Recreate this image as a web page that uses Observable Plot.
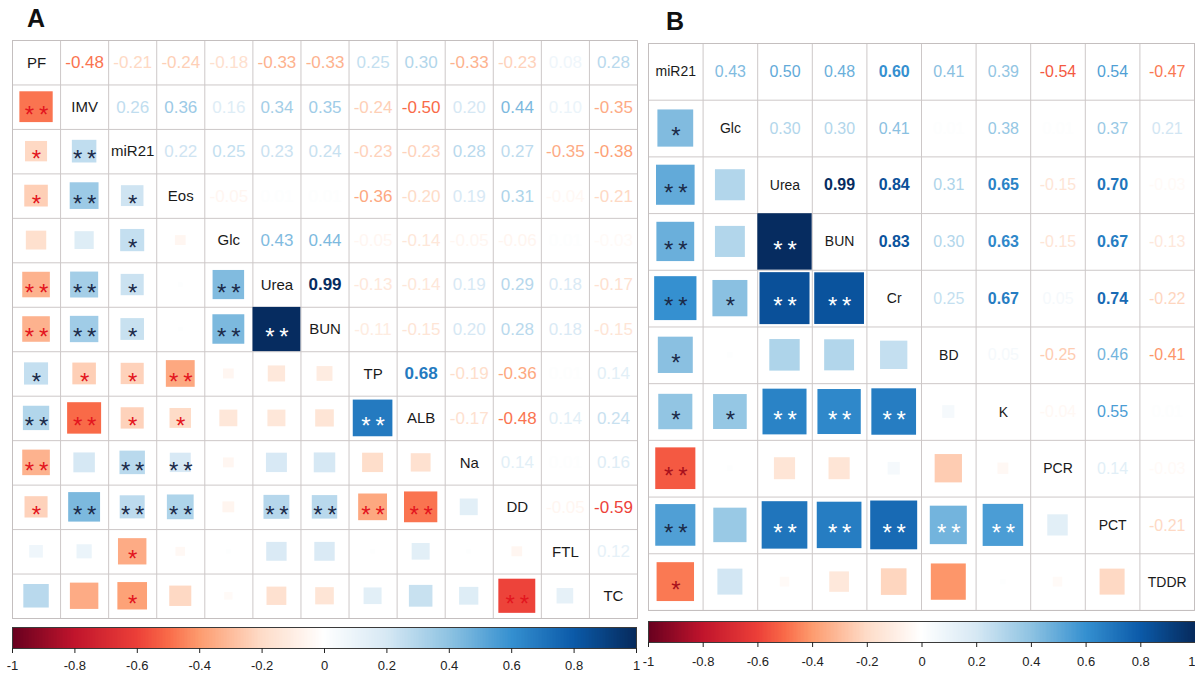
<!DOCTYPE html>
<html>
<head>
<meta charset="utf-8">
<script src="https://cdn.jsdelivr.net/npm/d3@7"></script>
<script src="https://cdn.jsdelivr.net/npm/@observablehq/plot@0.6"></script>
<style>
  html, body { margin: 0; padding: 0; background: #fff; overflow: hidden; width: 1195px; height: 673px; }
  .abs { position: absolute; }
  .panel-title { font-family: "Liberation Sans", Arial, sans-serif; font-weight: bold; font-size: 25px; color: #111; }
</style>
</head>
<body>
<div class="abs panel-title" style="left:27px; top:4px;">A</div>
<div class="abs panel-title" style="left:666px; top:7px;">B</div>
<div id="matA" class="abs" style="left:11px; top:39px;"></div>
<div id="matB" class="abs" style="left:647px; top:42px;"></div>
<div id="barA" class="abs" style="left:0px; top:626px;"></div>
<div id="barB" class="abs" style="left:636px; top:620px;"></div>
<script>
// ---------- Panel A data ----------
const varsA = ["PF", "IMV", "miR21", "Eos", "Glc", "Urea", "BUN", "TP", "ALB", "Na", "DD", "FTL", "TC"];
// upper triangle, row i holds r(i, j) for j > i
const corrA = [
  [-0.48, -0.21, -0.24, -0.18, -0.33, -0.33, 0.25, 0.30, -0.33, -0.23, 0.08, 0.28],
  [0.26, 0.36, 0.16, 0.34, 0.35, -0.24, -0.50, 0.20, 0.44, 0.10, -0.35],
  [0.22, 0.25, 0.23, 0.24, -0.23, -0.23, 0.28, 0.27, -0.35, -0.38],
  [-0.05, 0.01, 0.01, -0.36, -0.20, 0.19, 0.31, -0.04, -0.21],
  [0.43, 0.44, -0.05, -0.14, -0.05, -0.06, 0.01, -0.03],
  [0.99, -0.13, -0.14, 0.19, 0.29, 0.18, -0.17],
  [-0.11, -0.15, 0.20, 0.28, 0.18, -0.15],
  [0.68, -0.19, -0.36, 0.01, 0.14],
  [-0.17, -0.48, 0.14, 0.24],
  [0.14, 0.01, 0.16],
  [-0.05, -0.59],
  [0.12]
];
// lower triangle significance, row i holds marks for j < i
const sigA = [
  [],
  ["**"],
  ["*", "**"],
  ["*", "**", "*"],
  ["", "", "*", ""],
  ["**", "**", "*", "", "**"],
  ["**", "**", "*", "", "**", "**"],
  ["*", "*", "*", "**", "", "", ""],
  ["**", "**", "*", "*", "", "", "", "**"],
  ["**", "", "**", "**", "", "", "", "", ""],
  ["*", "**", "**", "**", "", "**", "**", "**", "**", ""],
  ["", "", "*", "", "", "", "", "", "", "", ""],
  ["", "", "*", "", "", "", "", "", "", "", "**", ""]
];

// ---------- Panel B data ----------
const varsB = ["miR21", "Glc", "Urea", "BUN", "Cr", "BD", "K", "PCR", "PCT", "TDDR"];
const corrB = [
  [0.43, 0.50, 0.48, 0.60, 0.41, 0.39, -0.54, 0.54, -0.47],
  [0.30, 0.30, 0.41, 0.01, 0.38, 0.01, 0.37, 0.21],
  [0.99, 0.84, 0.31, 0.65, -0.15, 0.70, -0.03],
  [0.83, 0.30, 0.63, -0.15, 0.67, -0.13],
  [0.25, 0.67, 0.05, 0.74, -0.22],
  [0.05, -0.25, 0.46, -0.41],
  [-0.04, 0.55, 0.01],
  [0.14, -0.03],
  [-0.21]
];
const sigB = [
  [],
  ["*"],
  ["**", ""],
  ["**", "", "**"],
  ["**", "*", "**", "**"],
  ["*", "", "", "", ""],
  ["*", "*", "**", "**", "**", ""],
  ["**", "", "", "", "", "", ""],
  ["**", "", "**", "**", "**", "**", "**", ""],
  ["*", "", "", "", "", "", "", "", ""]
];

// colour bar ticks
const barTicks = [-1, -0.8, -0.6, -0.4, -0.2, 0, 0.2, 0.4, 0.6, 0.8, 1];

const FONT = '"Liberation Sans", Arial, Helvetica, sans-serif';
// diverging palette as seen in the reference colour bar
const colorScale = {
  type: "linear",
  domain: [-1, -0.8, -0.6, -0.5, -0.4, -0.2, 0, 0.2, 0.4, 0.6, 0.8, 1],
  range: ["#67001f", "#c0142c", "#ec3f38", "#f96a48", "#fd9b6e", "#fedcc8", "#ffffff",
          "#d6e8f4", "#8ec3e2", "#3590d0", "#0b5aa8", "#062a5c"],
  interpolate: "rgb"
};

function buildCells(vars, corr, sig) {
  const n = vars.length;
  const cells = [];
  for (let i = 0; i < n; i++) {
    for (let j = 0; j < n; j++) {
      if (i === j) { cells.push({ i, j, kind: "diag", name: vars[i] }); continue; }
      const r = i < j ? corr[i][j - i - 1] : corr[j][i - j - 1];
      const star = i > j ? sig[i][j] : "";
      cells.push({ i, j, r, kind: i < j ? "upper" : "lower", star, col: vars[j] });
    }
  }
  return cells;
}

function matrixPlot({ vars, corr, sig, width, height, valueSize, labelSize, starSize, starNeg, starDy }) {
  const n = vars.length;
  const cells = buildCells(vars, corr, sig);
  const upper = cells.filter(d => d.kind === "upper");
  const lower = cells.filter(d => d.kind === "lower");
  const diag = cells.filter(d => d.kind === "diag");
  const lines = d3.range(n + 1);
  const s = d => Math.sqrt(Math.abs(d.r));
  const starTxt = d => d.star.split("").join("\u2009");
  const starred = lower.filter(d => d.star);
  const isLight = d => d.r > 0.45 && d.col !== "miR21";
  const starMark = (data, fill) => Plot.text(data, {
    x: d => d.j + 0.5, y: d => d.i + 0.5, text: starTxt, dy: starDy,
    fill, fontSize: starSize
  });
  return Plot.plot({
    width, height, margin: 1,
    x: { domain: [0, n], axis: null },
    y: { domain: [0, n], reverse: true, axis: null },
    color: colorScale,
    style: { fontFamily: FONT, background: "white" },
    marks: [
      Plot.ruleX(lines, { x: d => d, y1: 0, y2: n, stroke: "#cdc8c8", strokeWidth: 1 }),
      Plot.ruleY(lines, { y: d => d, x1: 0, x2: n, stroke: "#cdc8c8", strokeWidth: 1 }),
      Plot.rect(lower, {
        x1: d => d.j + 0.5 - s(d) / 2, x2: d => d.j + 0.5 + s(d) / 2,
        y1: d => d.i + 0.5 - s(d) / 2, y2: d => d.i + 0.5 + s(d) / 2,
        fill: "r", inset: 0
      }),
      Plot.text(upper.filter(d => Math.abs(d.r) < 0.6), {
        x: d => d.j + 0.5, y: d => d.i + 0.5, text: d => d.r.toFixed(2),
        fill: "r", fontSize: valueSize
      }),
      Plot.text(upper.filter(d => Math.abs(d.r) >= 0.6), {
        x: d => d.j + 0.5, y: d => d.i + 0.5, text: d => d.r.toFixed(2),
        fill: "r", fontSize: valueSize, fontWeight: "bold"
      }),
      Plot.text(diag, {
        x: d => d.j + 0.5, y: d => d.i + 0.5, text: "name",
        fill: "#1a1a1a", fontSize: labelSize
      }),
      starMark(starred.filter(d => d.r < 0), starNeg),
      starMark(starred.filter(d => d.r >= 0 && !isLight(d)), "#1b2a48"),
      starMark(starred.filter(d => d.r >= 0 && isLight(d)), "#ffffff"),
      Plot.frame({ stroke: "#c4bfbf" })
    ]
  });
}

function colorBar({ width, marginLeft, marginRight, barHeight, lastInside, pad, mb }) {
  const ramp = d3.range(-1, 1, 0.005);
  const mainTicks = lastInside ? barTicks.slice(0, -1) : barTicks;
  const last = barTicks[barTicks.length - 1];
  return Plot.plot({
    width, height: 1 + barHeight + mb,
    marginTop: 1, marginBottom: mb, marginLeft, marginRight,
    x: { domain: [-1, 1] },
    y: { domain: [0, 1], axis: null },
    color: colorScale,
    style: { fontFamily: FONT, fontSize: "13px", color: "#222" },
    marks: [
      Plot.rect(ramp, { x1: d => d, x2: d => d + 0.0055, y1: 0, y2: 1, fill: d => d + 0.0025, shapeRendering: "crispEdges" }),
      Plot.frame({ stroke: "#3a3a3a", strokeWidth: 1 }),
      Plot.axisX({
        ticks: barTicks, tickSize: 5, tickPadding: pad, stroke: "#222",
        tickFormat: d => mainTicks.includes(d) ? String(Math.round(d * 10) / 10) : "",
        fontSize: 13, fill: "#222"
      }),
      lastInside ? Plot.text([last], {
        x: d => d, y: 0, dy: 5 + pad, textAnchor: "end", lineAnchor: "top",
        text: d => String(d), fontSize: 13, fill: "#222"
      }) : null
    ]
  });
}

document.getElementById("matA").appendChild(matrixPlot({
  vars: varsA, corr: corrA, sig: sigA, width: 627, height: 580,
  valueSize: 17, labelSize: 15, starSize: 24, starNeg: "#e3151e", starDy: 8
}));
document.getElementById("matB").appendChild(matrixPlot({
  vars: varsB, corr: corrB, sig: sigB, width: 549, height: 570,
  valueSize: 16, labelSize: 14, starSize: 24, starNeg: "#a8101c", starDy: 8
}));
document.getElementById("barA").appendChild(colorBar({ width: 648, marginLeft: 12, marginRight: 12, barHeight: 21, lastInside: false, pad: 7, mb: 25 }));
document.getElementById("barB").appendChild(colorBar({ width: 559, marginLeft: 12, marginRight: 0, barHeight: 21, lastInside: true, pad: 9, mb: 31 }));
</script>
</body>
</html>
